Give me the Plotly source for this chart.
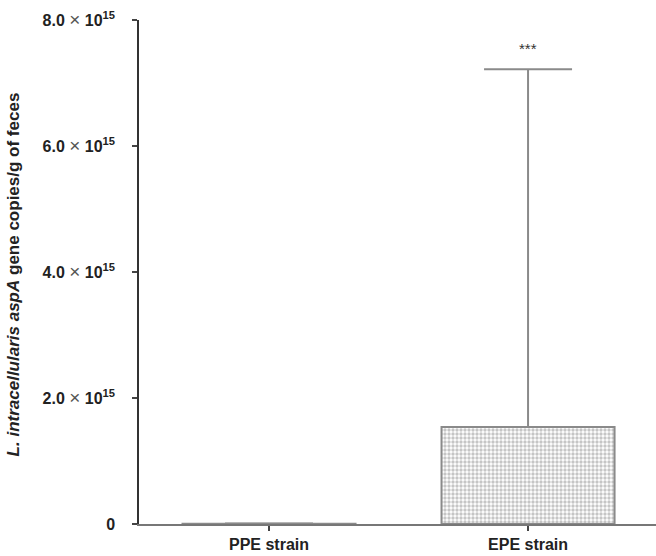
import plotly.graph_objects as go

categories = ["PPE strain", "EPE strain"]
means = [0.004e15, 1.54e15]
errors = [0.004e15, 5.68e15]
tick_vals = [0, 2e15, 4e15, 6e15, 8e15]
tick_mantissas = ["2.0", "4.0", "6.0", "8.0"]
significance = "***"

times = "\u00a0<span style='font-size:19px;color:#555'>×</span>\u00a0"
tick_text = ["<b>0</b>"] + ["<b>%s</b>%s<b>10<sup>15</sup></b>" % (m, times) for m in tick_mantissas]

fig = go.Figure()
fig.add_trace(go.Bar(
    x=[0, 1], y=means,
    marker=dict(color="#ffffff",
                line=dict(color="#8a8a8a", width=2),
                pattern=dict(shape=".", fgcolor="#8c8c8c", bgcolor="#ffffff",
                             size=4, solidity=0.55, fillmode="overlay")),
    error_y=dict(type="data", array=errors, symmetric=False, arrayminus=[0, 0],
                 color="#8a8a8a", thickness=2, width=44),
    showlegend=False,
))

fig.add_annotation(x=1, y=means[1] + errors[1], text=significance, showarrow=False,
                   yshift=21, font=dict(size=15, color="#333", family="Liberation Sans"))

fig.add_annotation(xref="paper", yref="paper", x=-0.242, y=0.495, textangle=-90,
                   showarrow=False, xanchor="center", yanchor="middle",
                   text="<b><i>L. intracellularis aspA</i> gene copies/g of feces</b>",
                   font=dict(size=17, color="#222", family="Liberation Sans"))

fig.update_layout(
    width=656, height=556,
    margin=dict(l=139, r=0, t=20, b=32),
    paper_bgcolor="white", plot_bgcolor="white",
    bargap=0.332,
    font=dict(family="Liberation Sans", color="#222"),
    xaxis=dict(range=[-0.502, 1.494], tickmode="array", tickvals=[0, 1],
               ticktext=["<b>%s</b>" % c for c in categories],
               showline=True, linecolor="#777", linewidth=1.5,
               ticks="outside", ticklen=5, tickcolor="#444", tickwidth=1.5,
               showgrid=False, zeroline=False, automargin=False,
               tickfont=dict(size=16, color="#222")),
    yaxis=dict(range=[0, 8e15], tickmode="array", tickvals=tick_vals, ticktext=tick_text,
               showline=True, linecolor="#333", linewidth=1.5,
               ticks="outside", ticklen=5, tickcolor="#444", tickwidth=1.5,
               ticklabelstandoff=14,
               showgrid=False, zeroline=False, automargin=False,
               tickfont=dict(size=16, color="#222")),
)

fig.write_html("out.html", config={"displayModeBar": False},
               post_script="document.body.style.margin='0';document.body.style.overflow='hidden';")
